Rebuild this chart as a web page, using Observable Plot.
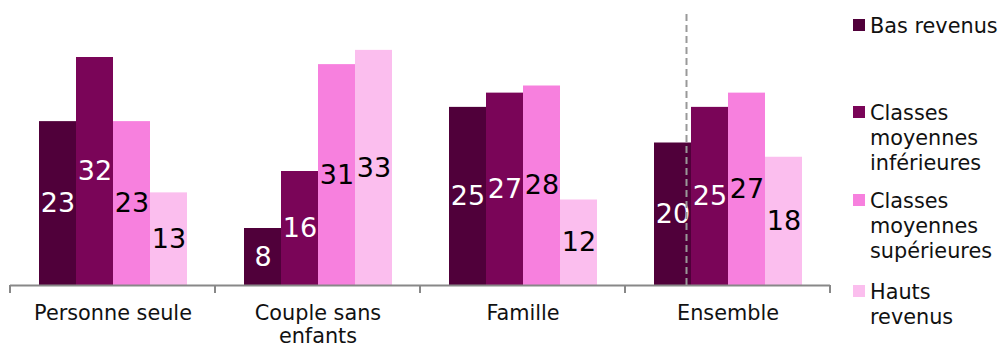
<!DOCTYPE html>
<html>
<head>
<meta charset="utf-8">
<script src="https://cdn.jsdelivr.net/npm/d3@7"></script>
<script src="https://cdn.jsdelivr.net/npm/@observablehq/plot@0.6"></script>
<style>
  html, body { margin: 0; padding: 0; background: #fff; }
  #wrap { position: relative; width: 999px; height: 347px; font-family: "DejaVu Sans", Verdana, sans-serif; }
  #chart { position: absolute; left: 0; top: 0; }
  .item { position: absolute; left: 853px; }
  .sw { position: absolute; left: 0; top: 5px; width: 12px; height: 12px; }
  .lbl { position: absolute; left: 17px; top: 0; width: 129px; font-size: 20.8px; line-height: 25px; color: #111; }
</style>
</head>
<body>
<div id="wrap"><div id="chart"></div><div id="legend"></div></div>
<script>
const groups = ["Personne seule", "Couple sans enfants", "Famille", "Ensemble"];
const groupLabels = ["Personne seule", "Couple sans\nenfants", "Famille", "Ensemble"];
const series = ["Bas revenus", "Classes moyennes inférieures", "Classes moyennes supérieures", "Hauts revenus"];
const basRevenus = [23, 8, 25, 20];
const moyInf = [32, 16, 27, 25];
const moySup = [23, 31, 28, 27];
const hautsRevenus = [13, 33, 12, 18];
const colors = ["#50003a", "#7a0558", "#f780de", "#fbbeee"];
const labelFill = ["#ffffff", "#ffffff", "#000000", "#000000"];

const values = [basRevenus, moyInf, moySup, hautsRevenus];
const rows = groups.flatMap((g, i) => series.map((s, j) => ({group: g, series: s, value: values[j][i], k: j})));

const plot = Plot.plot({
  width: 840,
  height: 347,
  marginTop: 0,
  marginBottom: 62,
  marginLeft: 10,
  marginRight: 10,
  style: {fontFamily: "DejaVu Sans, Verdana, sans-serif", fontSize: "20.8px", color: "#111", background: "transparent"},
  fx: {domain: groups, padding: 0, label: null, axis: null},
  x: {domain: series, paddingInner: 0, paddingOuter: 0.77, axis: null},
  y: {domain: [0, 40], axis: null},
  color: {domain: series, range: colors},
  marks: [
    Plot.barY(rows, {fx: "group", x: "series", y: "value", fill: "series"}),
    Plot.text(rows.filter(d => d.k < 2), {fx: "group", x: "series", y: d => d.value / 2, text: "value", fill: labelFill[0], fontSize: 27}),
    Plot.text(rows.filter(d => d.k >= 2), {fx: "group", x: "series", y: d => d.value / 2, text: "value", fill: labelFill[2], fontSize: 27}),
    Plot.ruleY([0], {stroke: "#888", strokeWidth: 2}),
    Plot.ruleX([{g: "Ensemble", s: "Bas revenus"}], {fx: "g", x: "s", y1: 0, y2: 38.2, dx: 13.5, stroke: "#999", strokeWidth: 2, strokeDasharray: "7,4"}),
    Plot.axisFx({anchor: "bottom", tickSize: 0, tickPadding: 18, fontSize: 20.8, lineHeight: 1.12, tickFormat: d => groupLabels[groups.indexOf(d)], label: null})
  ]
});
document.getElementById("chart").appendChild(plot);

// group boundary ticks on the axis line, from the fx scale
const fx = plot.scale("fx");
const bounds = groups.map(g => fx.apply(g)).concat([fx.apply(groups[groups.length - 1]) + fx.bandwidth]);
const yScale = plot.scale("y");
const y0 = yScale.apply(0);
d3.select(plot).append("g")
  .selectAll("line").data(bounds).join("line")
  .attr("x1", d => d).attr("x2", d => d)
  .attr("y1", y0).attr("y2", y0 + 8)
  .attr("stroke", "#888").attr("stroke-width", 2);

// legend
const legendTops = [13.5, 101, 188.5, 280];
const legend = d3.select("#legend");
series.forEach((s, i) => {
  const it = legend.append("div").attr("class", "item").style("top", legendTops[i] + "px");
  it.append("div").attr("class", "sw").style("background", colors[i]);
  it.append("div").attr("class", "lbl").text(s);
});
</script>
</body>
</html>
